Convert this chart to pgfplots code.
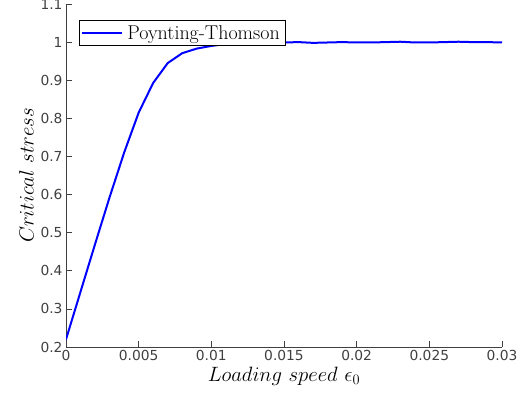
\documentclass[border=0pt]{standalone}
\usepackage{pgfplots}
\pgfplotsset{compat=1.18}
\usepackage{fontspec}
\setsansfont{DejaVu Sans}
\definecolor{tickgray}{RGB}{64,64,64}
\begin{document}
\begin{tikzpicture}
\begin{axis}[
  scale only axis,
  width=436pt, height=343pt,
  xmin=0, xmax=0.03, ymin=0.2, ymax=1.1,
  axis lines=left,
  axis line style={-, tickgray, line width=0.7pt},
  tick align=inside,
  major tick length=6pt,
  tick style={tickgray, line width=0.7pt},
  xtick={0,0.005,0.01,0.015,0.02,0.025,0.03},
  ytick={0.2,0.3,0.4,0.5,0.6,0.7,0.8,0.9,1,1.1},
  scaled x ticks=false,
  scaled y ticks=false,
  xticklabel style={/pgf/number format/fixed, /pgf/number format/precision=3},
  yticklabel style={/pgf/number format/fixed, /pgf/number format/precision=2},
  /pgf/number format/assume math mode=true,
  ticklabel style={font=\sffamily\fontsize{13.8}{15}\selectfont, text=tickgray},
  xlabel={$Loading\ speed\ \epsilon_0$},
  ylabel={$Critical\ stress$},
  label style={font=\fontsize{22}{24}\selectfont},
  xlabel style={yshift=1pt},
  ylabel style={yshift=0pt},
  legend style={at={(rel axis cs:0.03,0.953)}, anchor=north west,
    font=\fontsize{20}{22}\selectfont, draw=black, line width=0.5pt,
    inner xsep=2pt, inner ysep=3pt,
    nodes={inner xsep=4pt}},
  legend cell align=left,
  legend image code/.code={\draw[blue, line width=2pt] (0pt,0pt) -- (40pt,0pt);},
]
\coordinate (O) at (rel axis cs:0,0);
\coordinate (T) at (rel axis cs:1,1);
\addplot[blue, line width=2pt] coordinates {
(0,0.22) (0.001,0.345) (0.002,0.47) (0.003,0.593) (0.004,0.71) (0.005,0.815)
(0.006,0.893) (0.007,0.945) (0.008,0.971) (0.009,0.983) (0.010,0.990)
(0.011,0.995) (0.012,0.998) (0.013,0.999) (0.014,1.0) (0.015,0.999)
(0.016,1.0) (0.017,0.998) (0.018,0.999) (0.019,1.0) (0.020,0.999)
(0.021,0.999) (0.022,1.0) (0.023,1.001) (0.024,0.999) (0.025,0.999)
(0.026,1.0) (0.027,1.001) (0.028,1.0) (0.029,1.0) (0.030,0.999)
};
\addlegendentry{Poynting-Thomson}
\end{axis}
\pgfresetboundingbox
\path ([shift={(-66pt,-53pt)}]O) rectangle ([shift={(19pt,4pt)}]T);
\end{tikzpicture}
\end{document}
